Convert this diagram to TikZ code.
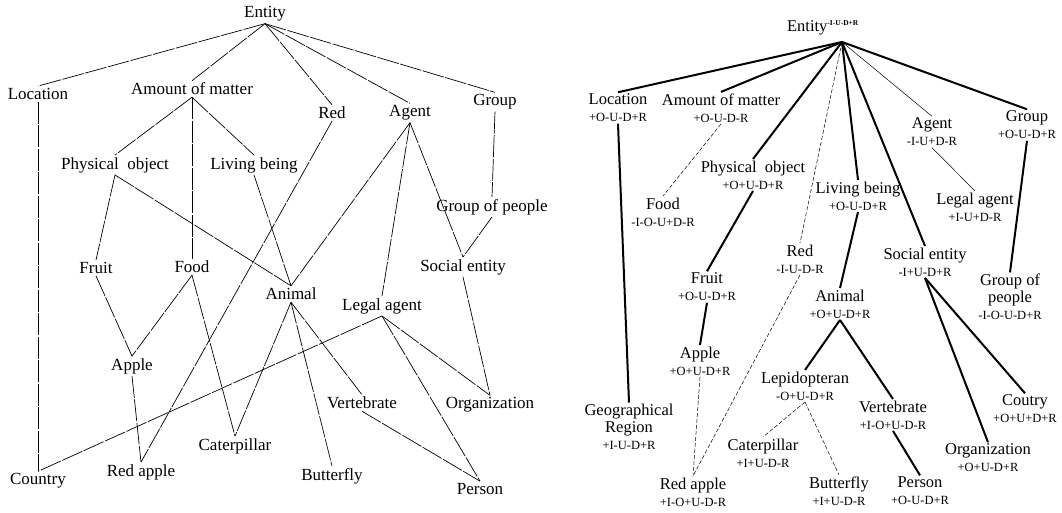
\documentclass[tikz,border=0pt]{standalone}
\usepackage{fontspec}
\setmainfont{Liberation Serif}
\newcommand{\subl}[1]{{\fontsize{12.5}{17}\selectfont #1}}
\tikzset{
  lt/.style={font=\fontsize{17}{18}\selectfont, inner sep=2pt},
  rt/.style={align=center, font=\fontsize{16.5}{17}\selectfont, inner sep=1.5pt},
  ledge/.style={line width=0.7pt, dash pattern=on 22pt off 1.5pt},
  tedge/.style={line width=2pt},
  dedge/.style={line width=0.5pt, dash pattern=on 4pt off 2pt},
  sedge/.style={line width=0.5pt},
}
\begin{document}
\begin{tikzpicture}[x=1pt,y=-1pt]
\useasboundingbox (0,0) rectangle (1062,513);
% ---------------- left tree ----------------
\node[lt] (e) at (265,14) {Entity};
\node[lt] (loc) at (38,94) {Location};
\node[lt] (amt) at (192,89) {Amount of matter};
\node[lt] (red) at (332,113) {Red};
\node[lt] (ag) at (410,113) {Agent};
\node[lt] (grp) at (495,102) {Group};
\node[lt] (phy) at (115,165) {Physical\hspace{0.5em}object};
\node[lt] (liv) at (254,165) {Living being};
\node[lt] (gop) at (492,207) {Group of people};
\node[lt] (fru) at (96,268) {Fruit};
\node[lt] (foo) at (192,267) {Food};
\node[lt] (soc) at (463,267) {Social entity};
\node[lt] (ani) at (291,294) {Animal};
\node[lt] (leg) at (382,306) {Legal agent};
\node[lt] (app) at (132,366) {Apple};
\node[lt] (ver) at (362,403) {Vertebrate};
\node[lt] (org) at (490,405) {Organization};
\node[lt] (cat) at (235,446) {Caterpillar};
\node[lt] (cou) at (38,481) {Country};
\node[lt] (rap) at (141,472) {Red apple};
\node[lt] (but) at (332,476) {Butterfly};
\node[lt] (per) at (480,489) {Person};
\foreach \a/\b in {e/loc,e/amt,e/red,e/ag,e/grp,amt/phy,amt/foo,amt/liv,
  loc/cou,red/rap,phy/fru,phy/ani,liv/ani,ag/ani,ag/leg,ag/soc,grp/gop,gop/soc,
  fru/app,foo/app,foo/cat,app/rap,ani/cat,ani/but,ani/ver,leg/cou,leg/org,leg/per,
  soc/org,ver/per}
  \draw[ledge] (\a.south) -- (\b.north);
% ---------------- right tree ----------------
\node[rt, anchor=base] (re) at (823,32) {Entity\textsuperscript{\bfseries\fontsize{7.5}{8}\selectfont -I-U-D+R}};
\coordinate (hub) at (842,42);
\node[rt] (rloc) at (618,108) {Location\\\subl{+O-U-D+R}};
\node[rt] (ramt) at (721,108) {Amount of matter\\\subl{+O-U-D-R}};
\node[rt] (rag) at (932,132) {Agent\\\subl{-I-U+D-R}};
\node[rt] (rgrp) at (1027,125) {Group\\\subl{+O-U-D+R}};
\node[rt] (rphy) at (753,175) {Physical\hspace{0.5em}object\\\subl{+O+U-D+R}};
\node[rt] (rliv) at (858,196) {Living being\\\subl{+O-U-D+R}};
\node[rt] (rfoo) at (663,212) {Food\\\subl{-I-O-U+D-R}};
\node[rt] (rleg) at (975,207) {Legal agent\\\subl{+I-U+D-R}};
\node[rt] (rred) at (800,259) {Red\\\subl{-I-U-D-R}};
\node[rt] (rsoc) at (925,262) {Social entity\\\subl{-I+U-D+R}};
\node[rt] (rfru) at (707,287) {Fruit\\\subl{+O-U-D+R}};
\node[rt] (rgop) at (1010,297) {Group of\\people\\\subl{-I-O-U-D+R}};
\node[rt] (rani) at (840,304) {Animal\\\subl{+O+U-D+R}};
\node[rt] (rapp) at (700,361) {Apple\\\subl{+O+U-D+R}};
\node[rt] (rlep) at (805,386) {Lepidopteran\\\subl{-O+U-D+R}};
\node[rt] (rgeo) at (629,427) {Geographical\\Region\\\subl{+I-U-D+R}};
\node[rt] (rver) at (893,415) {Vertebrate\\\subl{+I-O+U-D-R}};
\node[rt] (rcou) at (1025,409) {Coutry\\\subl{+O+U+D+R}};
\node[rt] (rcat) at (763,453) {Caterpillar\\\subl{+I+U-D-R}};
\node[rt] (rorg) at (988,458) {Organization\\\subl{+O+U-D+R}};
\node[rt] (rrap) at (693,492) {Red apple\\\subl{+I-O+U-D-R}};
\node[rt] (rbut) at (839,491) {Butterfly\\\subl{+I+U-D-R}};
\node[rt] (rper) at (920,491) {Person\\\subl{+O-U-D+R}};
\foreach \b in {rloc,ramt,rphy,rliv,rsoc,rgrp}
  \draw[tedge] (hub) -- (\b.north);
\draw[dedge] (hub) -- (rred.north);
\draw[sedge] (hub) -- (rag.north);
\foreach \a/\b in {rloc/rgeo,rphy/rfru,rfru/rapp,rliv/rani,rani/rlep,rani/rver,
  rver/rper,rsoc/rorg,rsoc/rcou,rgrp/rgop}
  \draw[tedge] (\a.south) -- (\b.north);
\foreach \a/\b in {ramt/rfoo,rred/rrap,rapp/rrap,rlep/rcat,rlep/rbut}
  \draw[dedge] (\a.south) -- (\b.north);
\draw[sedge] (rag.south) -- (rleg.north);
\end{tikzpicture}
\end{document}
